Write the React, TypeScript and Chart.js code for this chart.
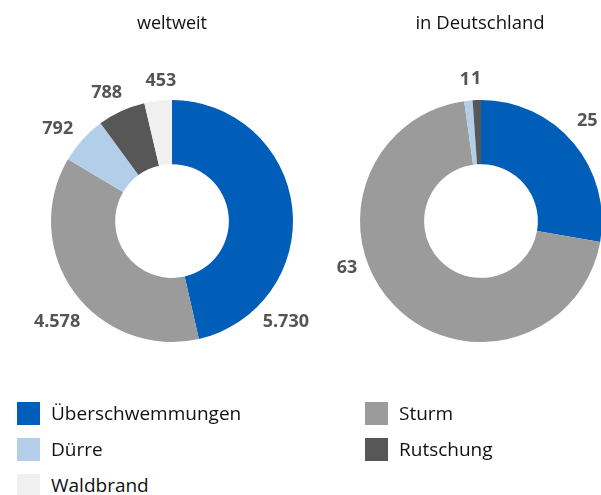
import React, { useEffect, useRef } from "react";
import { Chart, registerables } from "chart.js";

Chart.register(...registerables);

const categories = ["Überschwemmungen", "Sturm", "Dürre", "Rutschung", "Waldbrand"];
const weltweitValues = [5730, 4578, 792, 788, 453];
const deutschlandValues = [25, 63, 1, 1, 0];
const colors = ["#005EB8", "#9B9B9B", "#B3CEE9", "#575757", "#F0F0F0"];
const titles = ["weltweit", "in Deutschland"];

// label placement (degrees clockwise from top, extra distance beyond the ring)
const weltweitLabelAngles = [131.5, 228.7, 309, 333, 355.5];
const weltweitLabelOffsets = [31, 32, 26, 23, 20];
const deutschlandLabelAngles = [46.7, 250.7, 353.5, 358, 0];
const deutschlandLabelOffsets = [25, 21, 21, 21, 21];

const FONT = '"Open Sans", "DejaVu Sans", sans-serif';

const fmt = (v: number) => String(v).replace(/\B(?=(\d{3})+(?!\d))/g, ".");

const labelPlugin = {
  id: "valueLabels",
  afterDatasetsDraw(chart: any, _args: any, opts: any) {
    const ctx = chart.ctx;
    const meta = chart.getDatasetMeta(0);
    const ds = chart.data.datasets[0];
    ctx.save();
    ctx.font = `bold 18px ${FONT}`;
    ctx.fillStyle = "#555555";
    ctx.textAlign = "center";
    ctx.textBaseline = "middle";
    meta.data.forEach((arc: any, i: number) => {
      const v = ds.data[i];
      if (!v) return;
      const p = arc.getProps(["x", "y", "startAngle", "endAngle", "outerRadius"], true);
      const a =
        opts.angles && opts.angles[i] != null
          ? ((opts.angles[i] - 90) * Math.PI) / 180
          : (p.startAngle + p.endAngle) / 2;
      const r = p.outerRadius + (opts.offsets ? opts.offsets[i] : 26);
      ctx.fillText(fmt(v), p.x + r * Math.cos(a), p.y + r * Math.sin(a));
    });
    ctx.restore();
  },
};

function Donut({ values, angles, offsets, left, width }: any) {
  const ref = useRef<HTMLCanvasElement>(null);
  useEffect(() => {
    const chart = new Chart(ref.current as HTMLCanvasElement, {
      type: "doughnut",
      data: {
        labels: categories,
        datasets: [
          {
            data: values,
            backgroundColor: colors,
            borderWidth: 0,
            radius: 121,
          } as any,
        ],
      },
      options: {
        responsive: false,
        animation: false,
        cutout: "47%",
        layout: { padding: 0 },
        plugins: {
          legend: { display: false },
          tooltip: { enabled: false },
          valueLabels: { angles, offsets },
        } as any,
      } as any,
      plugins: [labelPlugin],
    });
    return () => chart.destroy();
  }, []);
  return (
    <canvas
      ref={ref}
      width={width}
      height={442}
      style={{ position: "absolute", left, top: 0, width, height: 442 }}
    />
  );
}

export default function App() {
  const legendPos = [
    [17, 402],
    [365, 402],
    [17, 438],
    [365, 438],
    [17, 474],
  ];
  return (
    <div
      style={{
        position: "absolute",
        left: 0,
        top: 0,
        width: 601,
        height: 495,
        overflow: "hidden",
        background: "#fff",
        fontFamily: FONT,
      }}
    >
      <Donut values={weltweitValues} angles={weltweitLabelAngles} offsets={weltweitLabelOffsets} left={0} width={344} />
      <Donut values={deutschlandValues} angles={deutschlandLabelAngles} offsets={deutschlandLabelOffsets} left={300} width={362} />
      {titles.map((t, i) => (
        <div
          key={t}
          style={{
            position: "absolute",
            left: i === 0 ? 72 : 380,
            width: 200,
            top: 10,
            textAlign: "center",
            fontSize: i === 0 ? 18 : 18.5,
            lineHeight: "24px",
            color: "#111",
          }}
        >
          {t}
        </div>
      ))}
      {categories.map((c, i) => (
        <div
          key={c}
          style={{
            position: "absolute",
            left: legendPos[i][0],
            top: legendPos[i][1],
            height: 23,
            display: "flex",
            alignItems: "center",
          }}
        >
          <div style={{ width: 23, height: 23, background: colors[i] }} />
          <div style={{ marginLeft: 11, fontSize: 19, lineHeight: "23px", color: "#111", whiteSpace: "nowrap" }}>{c}</div>
        </div>
      ))}
    </div>
  );
}
